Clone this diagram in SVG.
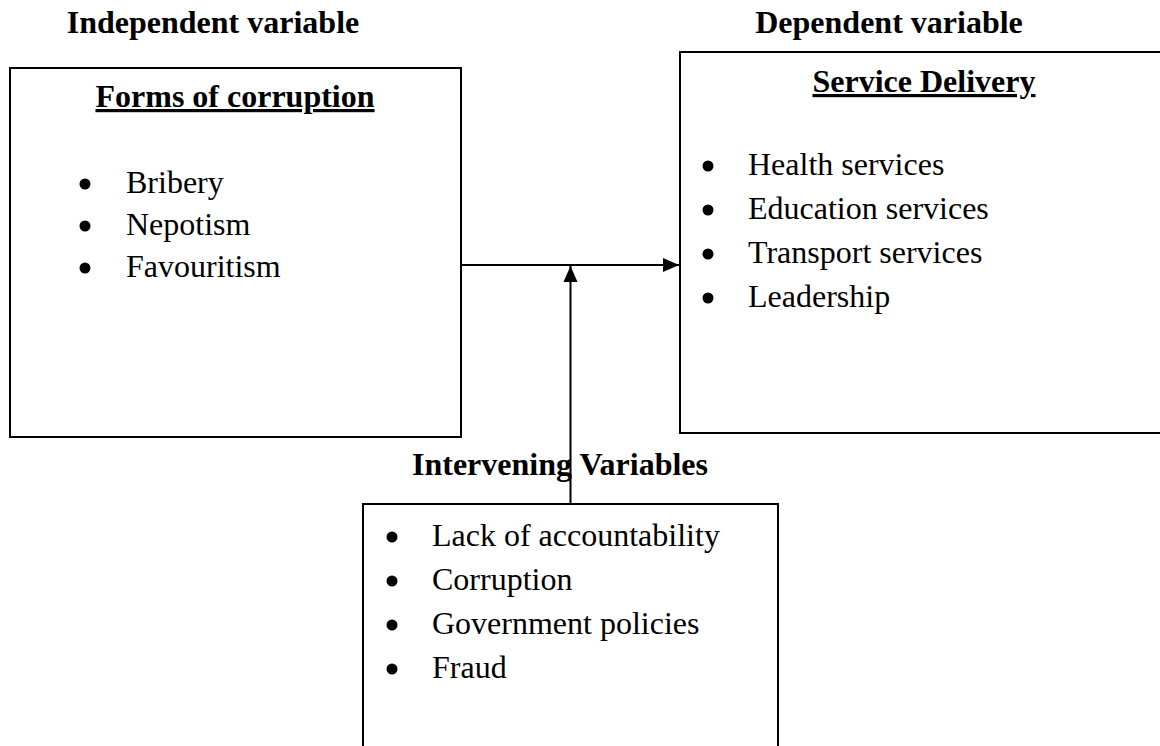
<svg xmlns="http://www.w3.org/2000/svg" width="1160" height="746" viewBox="0 0 1160 746">
<style>
.box{fill:#fff;stroke:#000;stroke-width:2}
.t{font-family:"Liberation Serif","Times New Roman",serif;font-size:32px;fill:#000}
.b{font-weight:bold}
.c{text-anchor:middle}
.u{text-decoration:underline}
.conn{stroke:#000;stroke-width:2;fill:none}
.dot{fill:#000}
</style>
<defs>
<marker id="arr" markerUnits="userSpaceOnUse" markerWidth="16" markerHeight="16" viewBox="0 0 16 16" refX="16" refY="8" orient="auto">
<path d="M0,1 L16,8 L0,15 Z" fill="#000"/>
</marker>
</defs>
<rect width="1160" height="746" fill="#fff"/>
<text class="t b c" x="213" y="33">Independent variable</text>
<text class="t b c" x="889" y="33">Dependent variable</text>
<g id="forms">
<rect class="box" x="10" y="68" width="451" height="369"/>
<text class="t b c u" x="235" y="107">Forms of corruption</text>
<circle class="dot" cx="85" cy="184" r="5.5"/><text class="t" x="126" y="193">Bribery</text>
<circle class="dot" cx="85" cy="226" r="5.5"/><text class="t" x="126" y="235">Nepotism</text>
<circle class="dot" cx="85" cy="268" r="5.5"/><text class="t" x="126" y="277">Favouritism</text>
</g>
<g id="service">
<rect class="box" x="680" y="52" width="490" height="381"/>
<text class="t b c u" x="924" y="92">Service Delivery</text>
<circle class="dot" cx="708" cy="166" r="5.5"/><text class="t" x="748" y="175">Health services</text>
<circle class="dot" cx="708" cy="210" r="5.5"/><text class="t" x="748" y="219">Education services</text>
<circle class="dot" cx="708" cy="254" r="5.5"/><text class="t" x="748" y="263">Transport services</text>
<circle class="dot" cx="708" cy="298" r="5.5"/><text class="t" x="748" y="307">Leadership</text>
</g>
<g id="intervening">
<text class="t b c" x="560" y="475">Intervening Variables</text>
<rect class="box" x="363" y="504" width="415" height="260"/>
<circle class="dot" cx="392" cy="537" r="5.5"/><text class="t" x="432" y="546">Lack of accountability</text>
<circle class="dot" cx="392" cy="581" r="5.5"/><text class="t" x="432" y="590">Corruption</text>
<circle class="dot" cx="392" cy="625" r="5.5"/><text class="t" x="432" y="634">Government policies</text>
<circle class="dot" cx="392" cy="669" r="5.5"/><text class="t" x="432" y="678">Fraud</text>
</g>
<g id="connectors">
<line class="conn" x1="461" y1="265" x2="679" y2="265" marker-end="url(#arr)"/>
<line class="conn" x1="570.5" y1="504" x2="570.5" y2="266" marker-end="url(#arr)"/>
</g>
</svg>
